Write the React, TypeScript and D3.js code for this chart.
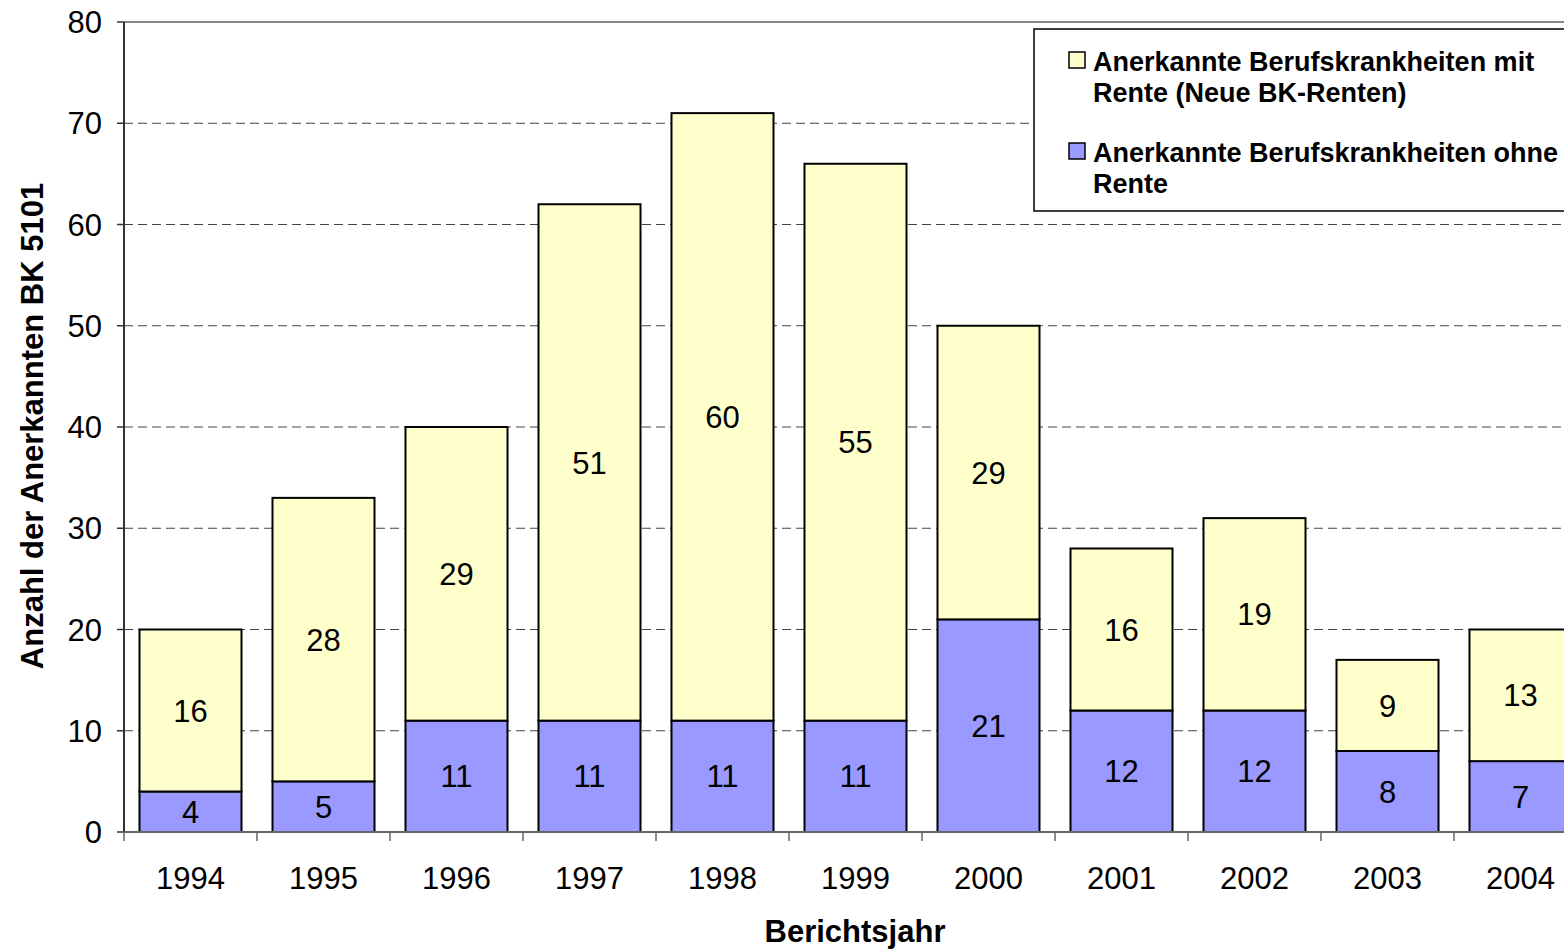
import React from "react";
import * as d3 from "d3";

const years = ["1994","1995","1996","1997","1998","1999","2000","2001","2002","2003","2004"];
const ohneRente = [4,5,11,11,11,11,21,12,12,8,7];
const mitRente = [16,28,29,51,60,55,29,16,19,9,13];
const yTicks = [0,10,20,30,40,50,60,70,80];
const legendLabels = [
  ["Anerkannte Berufskrankheiten mit", "Rente (Neue BK-Renten)"],
  ["Anerkannte Berufskrankheiten ohne", "Rente"],
];
const colors = { mit: "#FFFFCC", ohne: "#9999FF" };

const W = 1564, H = 949;
const left = 124, top = 22, bottom = 832;
const step = 133;

export default function App() {
  const x = d3.scaleBand<string>().domain(years).range([left, left + step * years.length]).paddingInner(0.233).paddingOuter(0.1165);
  const y = d3.scaleLinear().domain([0, 80]).range([bottom, top]);
  const font = "'Liberation Sans', Arial, sans-serif";
  const catEdges = d3.range(years.length + 1).map(i => left + i * step);
  return (
    <svg width={W} height={H} style={{ position: "fixed", left: 0, top: 0, background: "#fff" }} fontFamily={font}>
      <rect x={0} y={0} width={W} height={H} fill="#fff" />
      {yTicks.filter(t => t > 0 && t < 80).map(t => (
        <line key={t} x1={left} x2={W} y1={y(t)} y2={y(t)} stroke="#444" strokeWidth={1} strokeDasharray="9,5" />
      ))}
      <line x1={left} x2={W} y1={y(80)} y2={y(80)} stroke="#888" strokeWidth={2} />
      {years.map((yr, i) => {
        const bx = x(yr)!;
        const bw = x.bandwidth();
        const y0 = y(0), y1 = y(ohneRente[i]), y2 = y(ohneRente[i] + mitRente[i]);
        return (
          <g key={yr}>
            <rect x={bx} y={y1} width={bw} height={y0 - y1} fill={colors.ohne} stroke="#000" strokeWidth={2} />
            <rect x={bx} y={y2} width={bw} height={y1 - y2} fill={colors.mit} stroke="#000" strokeWidth={2} />
            <text x={bx + bw / 2} y={(y0 + y1) / 2} dy="0.36em" textAnchor="middle" fontSize={31}>{ohneRente[i]}</text>
            <text x={bx + bw / 2} y={(y1 + y2) / 2} dy="0.36em" textAnchor="middle" fontSize={31}>{mitRente[i]}</text>
          </g>
        );
      })}
      <line x1={left} x2={left} y1={top} y2={bottom} stroke="#333" strokeWidth={2} />
      <line x1={left} x2={W} y1={bottom} y2={bottom} stroke="#666" strokeWidth={2} />
      {yTicks.map(t => (
        <g key={t}>
          <line x1={left - 7} x2={left} y1={y(t)} y2={y(t)} stroke="#333" strokeWidth={1.5} />
          <text x={left - 22} y={y(t)} dy="0.36em" textAnchor="end" fontSize={31}>{t}</text>
        </g>
      ))}
      {catEdges.map((e, i) => (
        <line key={i} x1={e} x2={e} y1={bottom} y2={bottom + 9} stroke="#666" strokeWidth={1.5} />
      ))}
      {years.map(yr => (
        <text key={yr} x={x(yr)! + x.bandwidth() / 2} y={878} dy="0.36em" textAnchor="middle" fontSize={31}>{yr}</text>
      ))}
      <text x={855} y={931} dy="0.36em" textAnchor="middle" fontSize={31} fontWeight="bold">Berichtsjahr</text>
      <text transform={`translate(32,426) rotate(-90)`} dy="0.36em" textAnchor="middle" fontSize={31} fontWeight="bold">Anzahl der Anerkannten BK 5101</text>
      <rect x={1034} y={29} width={W} height={182} fill="#fff" stroke="#000" strokeWidth={1.5} />
      {legendLabels.map((lines, i) => (
        <g key={i} transform={`translate(0, ${i * 91})`}>
          <rect x={1069} y={52} width={16} height={16} fill={i === 0 ? colors.mit : colors.ohne} stroke="#000" strokeWidth={1.5} />
          <text x={1093} y={61} dy="0.36em" fontSize={27} fontWeight="bold">{lines[0]}</text>
          <text x={1093} y={92} dy="0.36em" fontSize={27} fontWeight="bold">{lines[1]}</text>
        </g>
      ))}
    </svg>
  );
}
